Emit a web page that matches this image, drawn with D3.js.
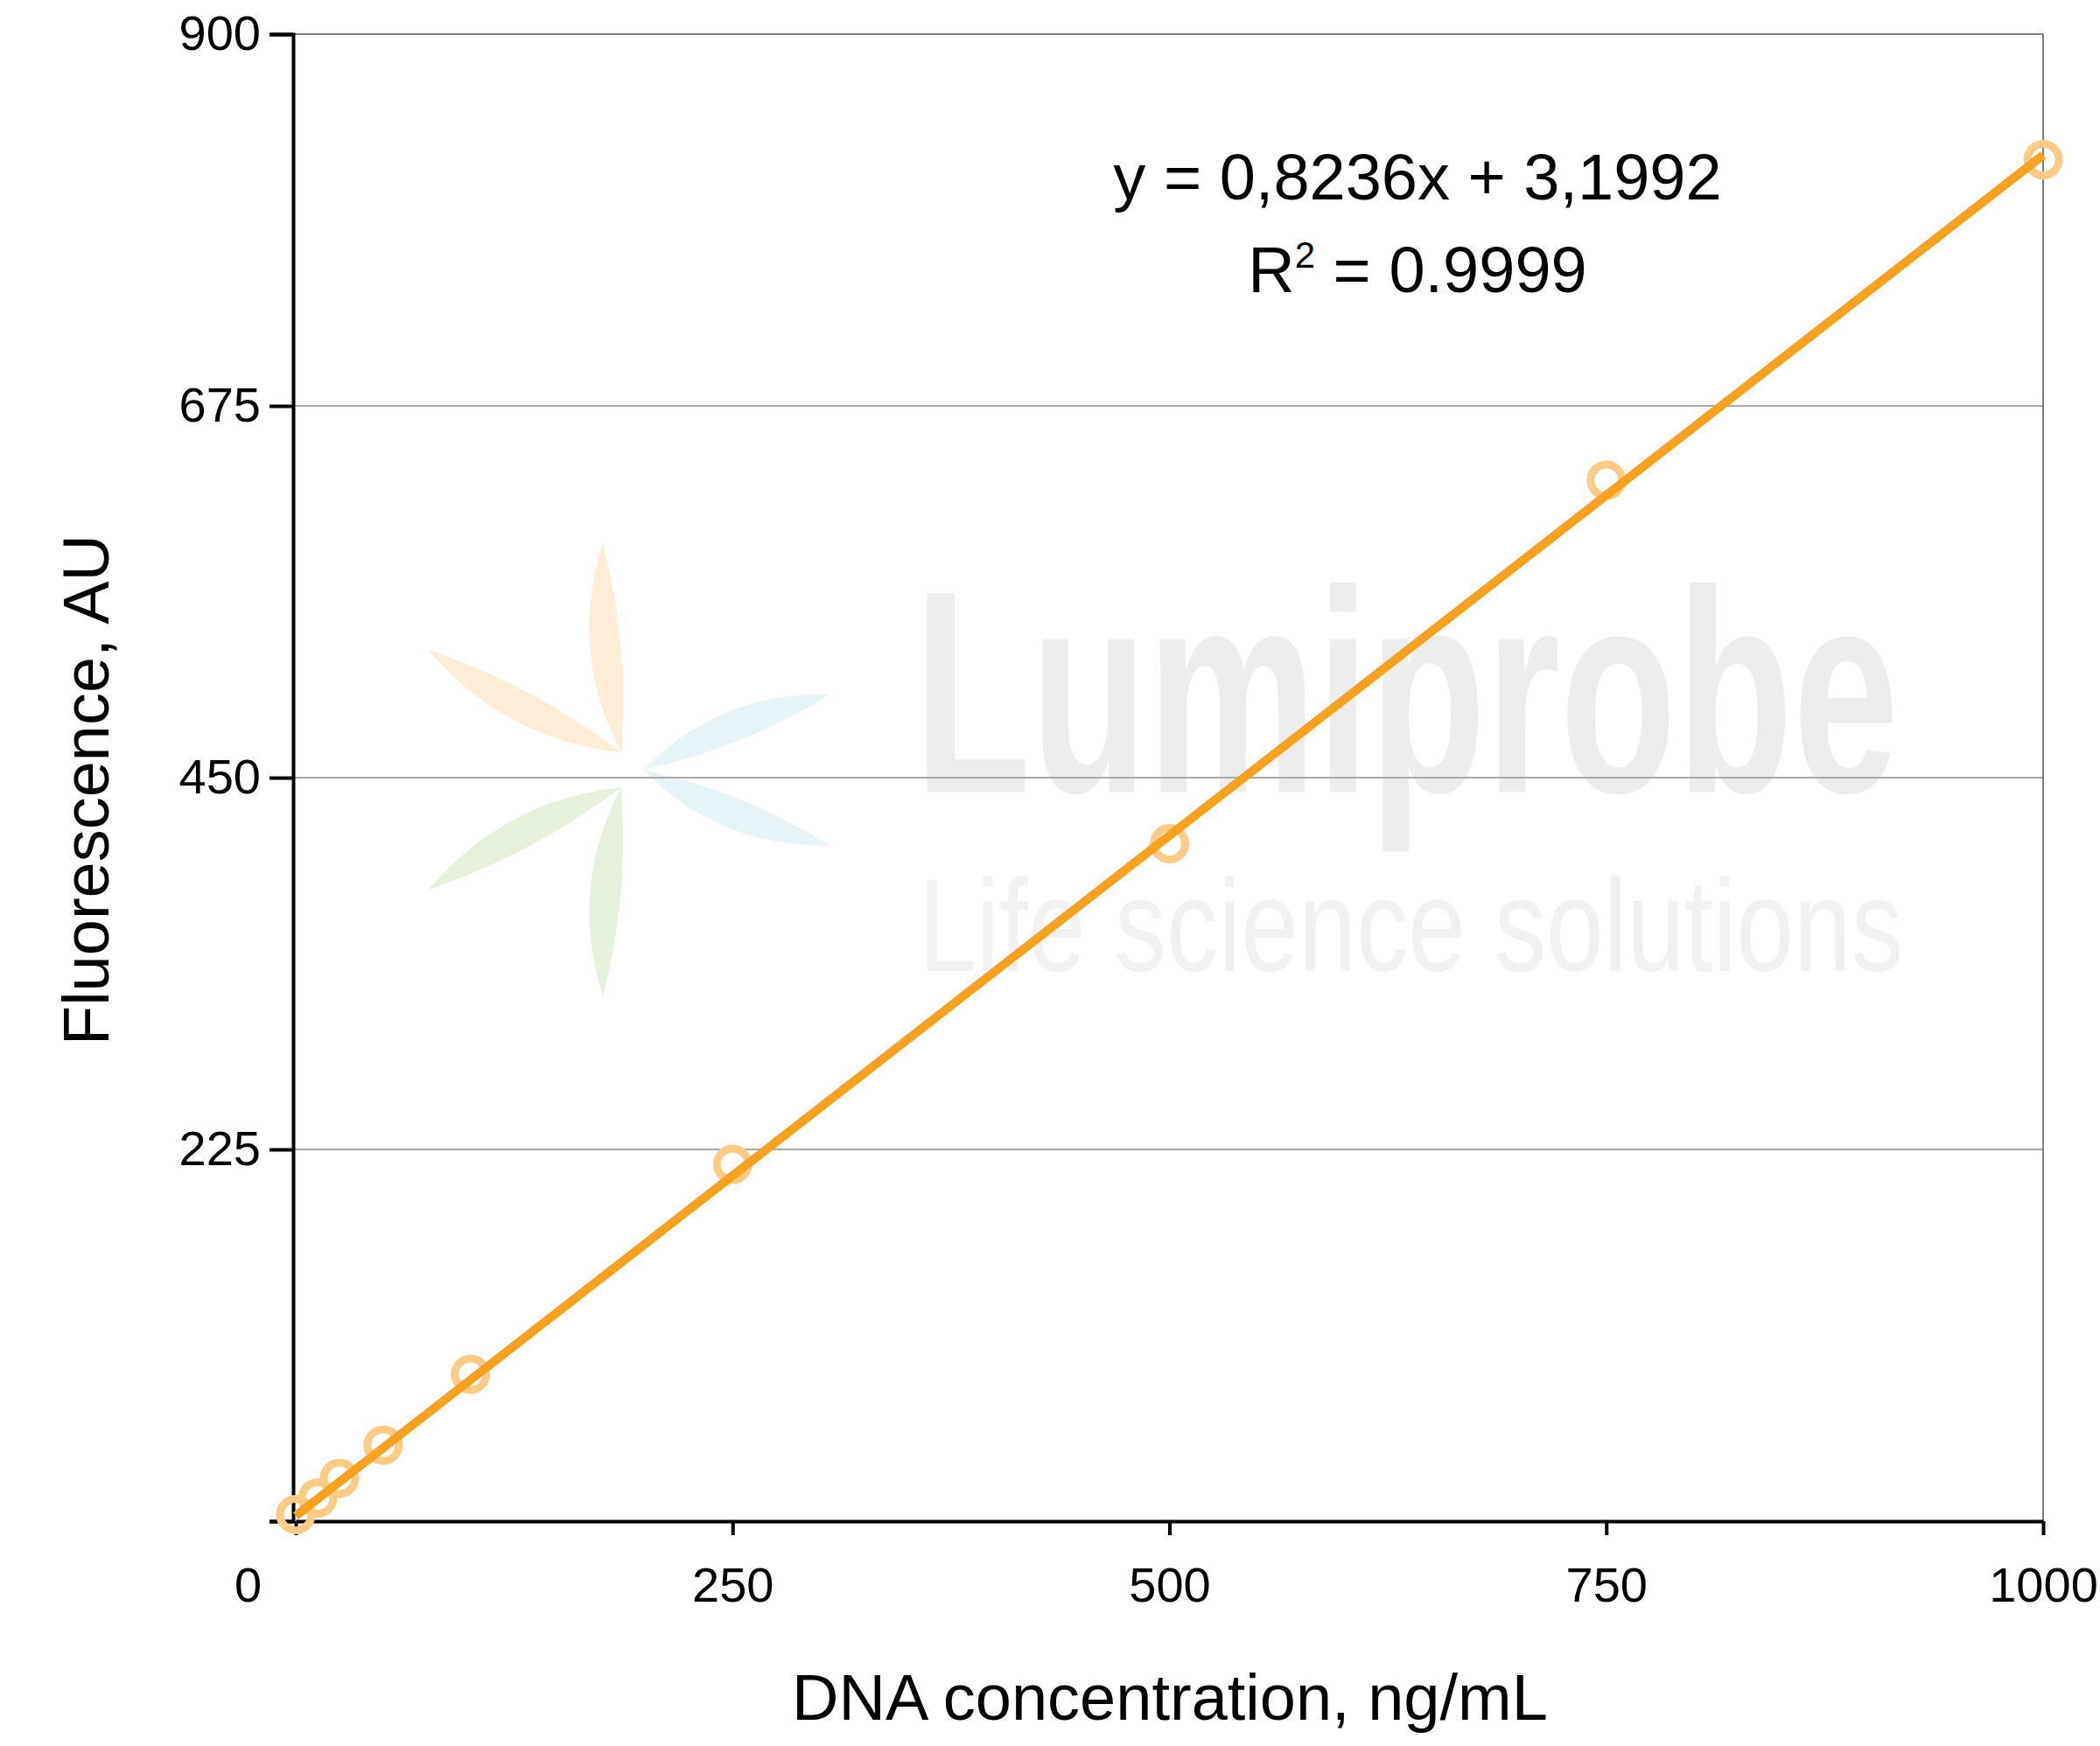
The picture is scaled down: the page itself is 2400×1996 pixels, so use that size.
<!DOCTYPE html>
<html><head><meta charset="utf-8">
<script src="https://cdn.jsdelivr.net/npm/d3@7"></script>
<style>body{margin:0;background:#fff}svg{display:block;font-family:"Liberation Sans",Arial,sans-serif}</style>
</head><body>
<script>
var concentrations = [0, 12.5, 25, 50, 100, 250, 500, 750, 1000];
var fluorescence = [4, 14, 26, 46, 89, 216, 410, 630, 824];
var xTicks = [0, 250, 500, 750, 1000];
var yTicks = [0, 225, 450, 675, 900];
var slope = 0.8236, intercept = 3.1992;

var W = 2400, H = 1996;
var svg = d3.select('body').append('svg').attr('width', W).attr('height', H);
var x = d3.scaleLinear().domain([0, 1000]).range([338, 2335]);
var y = d3.scaleLinear().domain([0, 900]).range([1739, 39]);

// watermark
var wm = svg.append('g');
var petal = function(cx, cy, ang, len, wid) {
    var p = d3.path();
    p.moveTo(0, 0);
    p.quadraticCurveTo(len * 0.5, -wid, len, 0);
    p.quadraticCurveTo(len * 0.5, wid * 0.4, 0, 0);
    wm.append('path').attr('d', p.toString())
        .attr('transform', 'translate(' + cx + ',' + cy + ') rotate(' + ang + ')');
    return wm.select('path:last-child');
};
petal(710, 860, -95, 240, 50).attr('fill', '#fdecd6');
petal(710, 860, -152, 250, 50).attr('fill', '#fdecd6');
petal(735, 880, -22, 230, 50).attr('fill', '#e6f4f7');
petal(735, 880, 22, 230, -50).attr('fill', '#e6f4f7');
petal(710, 900, 152, 250, -50).attr('fill', '#e6f1dc');
petal(710, 900, 95, 240, -50).attr('fill', '#e6f1dc');
wm.append('text').attr('x', 1045).attr('y', 905).attr('font-size', 330).attr('font-weight', 'bold')
    .attr('fill', '#ececec').attr('textLength', 1125).attr('lengthAdjust', 'spacingAndGlyphs').text('Lumiprobe');
wm.append('text').attr('x', 1050).attr('y', 1110).attr('font-size', 150)
    .attr('fill', '#f1f1f1').attr('textLength', 1125).attr('lengthAdjust', 'spacingAndGlyphs').text('Life science solutions');

// grid and frame
svg.append('g').selectAll('line').data(yTicks.slice(1, 4)).join('line')
    .attr('x1', x(0) - 3).attr('x2', x(1000)).attr('y1', d => y(d)).attr('y2', d => y(d))
    .attr('stroke', '#aaaaaa').attr('stroke-width', 2);
svg.append('line').attr('x1', 335).attr('x2', x(1000)).attr('y1', y(900)).attr('y2', y(900))
    .attr('stroke', '#555').attr('stroke-width', 1.5);
svg.append('line').attr('x1', x(1000)).attr('x2', x(1000)).attr('y1', y(900)).attr('y2', y(0))
    .attr('stroke', '#555').attr('stroke-width', 1.5);

// axes
var yAxis = svg.append('g').attr('transform', 'translate(335,0)')
    .call(d3.axisLeft(y).tickValues(yTicks).tickSize(27).tickPadding(10).tickFormat(d => d === 0 ? '' : d));
yAxis.select('.domain').attr('stroke', '#000').attr('stroke-width', 4);
yAxis.selectAll('.tick line').attr('stroke-width', 4);
yAxis.selectAll('.tick text').attr('font-size', 56).attr('fill', '#000').attr('font-family', 'Liberation Sans');
var xAxis = svg.append('g').attr('transform', 'translate(0,1739)')
    .call(d3.axisBottom(x).tickValues(xTicks).tickSize(16).tickPadding(36).tickSizeOuter(0).tickFormat(d3.format('d')));
xAxis.select('.domain').attr('stroke', '#000').attr('stroke-width', 4);
xAxis.selectAll('.tick line').attr('stroke-width', 4);
xAxis.selectAll('.tick text').attr('font-size', 56).attr('fill', '#000').attr('font-family', 'Liberation Sans')
    .attr('dx', d => d === 0 ? -55 : 0);

// data
svg.append('g').selectAll('circle').data(concentrations).join('circle')
    .attr('cx', d => x(d)).attr('cy', (d, i) => y(fluorescence[i])).attr('r', 18)
    .attr('fill', 'none').attr('stroke', '#fccb85').attr('stroke-width', 9);
svg.append('line').attr('x1', x(0)).attr('y1', y(intercept)).attr('x2', x(1000)).attr('y2', y(slope * 1000 + intercept))
    .attr('stroke', '#f7a11e').attr('stroke-width', 10);

// labels
svg.append('text').attr('x', 1620).attr('y', 228).attr('text-anchor', 'middle').attr('font-size', 74)
    .text('y = 0,8236x + 3,1992');
var r2 = svg.append('text').attr('x', 1620).attr('y', 334).attr('text-anchor', 'middle').attr('font-size', 74);
r2.append('tspan').text('R');
r2.append('tspan').attr('font-size', 42).attr('dy', -28).text('2');
r2.append('tspan').attr('dy', 28).text(' = 0.9999');
svg.append('text').attr('x', 1337).attr('y', 1966).attr('text-anchor', 'middle').attr('font-size', 74)
    .text('DNA concentration, ng/mL');
svg.append('text').attr('transform', 'translate(124,903) rotate(-90)').attr('text-anchor', 'middle').attr('font-size', 74)
    .text('Fluorescence, AU');
</script>
</body></html>
